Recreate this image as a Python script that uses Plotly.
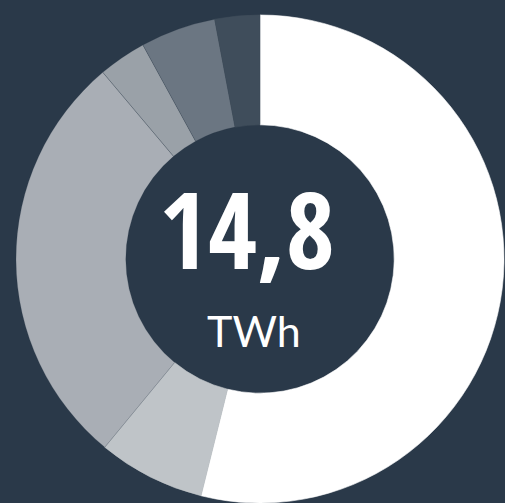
import plotly.graph_objects as go

labels = ["A", "B", "C", "D", "E", "F"]
values = [7.98, 1.05, 4.13, 0.47, 0.74, 0.44]
colors = ["#ffffff", "#bfc4c8", "#a9aeb5", "#9aa1a8", "#6b7682", "#3f4d5b"]
total_label = "14,8"
unit_label = "TWh"

BG = "#2a3949"
SEP = "rgba(40,52,66,0.35)"
line_colors = [colors[0], colors[1], SEP, SEP, SEP, colors[5]]

fig = go.Figure(go.Pie(
    labels=labels,
    values=values,
    hole=0.55,
    sort=False,
    direction="clockwise",
    rotation=0,
    marker=dict(colors=colors, line=dict(width=0.6, color=line_colors)),
    textinfo="none",
    hoverinfo="label+value",
    domain=dict(x=[0.0297, 1.0], y=[0.0, 0.9702]),
    showlegend=False,
))

fig.add_annotation(text=total_label, x=247 / 505, y=1 - 228 / 503, xref="paper", yref="paper",
                   showarrow=False, xanchor="center", yanchor="middle",
                   font=dict(family="Open Sans Condensed, Roboto Condensed, sans-serif",
                             size=106, color="#ffffff", weight="bold"))
fig.add_annotation(text=unit_label, x=253.5 / 505, y=1 - 330 / 503, xref="paper", yref="paper",
                   showarrow=False, xanchor="center", yanchor="middle",
                   font=dict(family="Lato, sans-serif", size=43, color="#ffffff"))

fig.update_layout(
    width=505, height=503,
    margin=dict(l=0, r=0, t=0, b=0),
    paper_bgcolor=BG, plot_bgcolor=BG,
)

fig.write_html("out.html", config={"displayModeBar": False},
               post_script="document.body.style.margin='0';document.body.style.background='%s';" % BG)
